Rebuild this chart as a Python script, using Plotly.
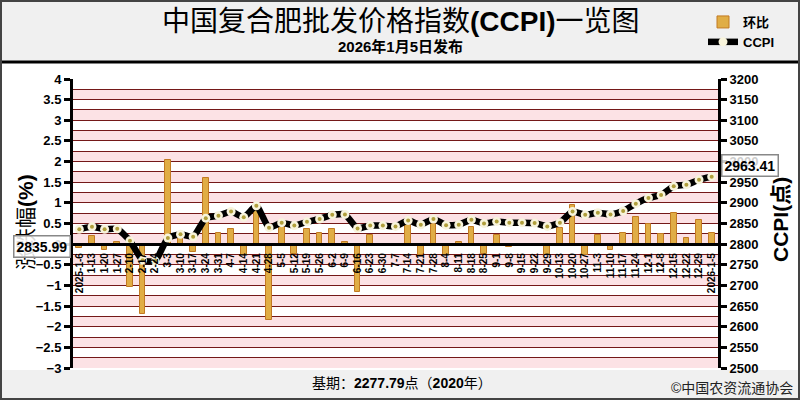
import plotly.graph_objects as go

# ---------------- data ----------------
dates = ["2025-1-6", "1-13", "1-20", "1-27", "2-10", "2-17", "2-24", "3-3", "3-10", "3-17",
         "3-24", "3-31", "4-7", "4-14", "4-21", "4-28", "5-5", "5-12", "5-19", "5-26",
         "6-2", "6-9", "6-16", "6-23", "6-30", "7-7", "7-14", "7-21", "7-28", "8-4",
         "8-11", "8-18", "8-25", "9-1", "9-8", "9-15", "9-22", "9-29", "10-13", "10-20",
         "10-27", "11-3", "11-10", "11-17", "11-24", "12-1", "12-8", "12-15", "12-22", "12-29",
         "2026-1-5"]

ccpi = [2835.99, 2842, 2836, 2837, 2808, 2761, 2759, 2815, 2824, 2818,
        2863, 2869, 2879, 2865, 2893, 2840, 2852, 2845, 2854, 2861,
        2871, 2872, 2838, 2845, 2845, 2843, 2857, 2847, 2861, 2846,
        2847, 2859, 2850, 2855, 2852, 2852, 2851, 2843, 2852, 2879,
        2871, 2876, 2872, 2880, 2898, 2912, 2919, 2940, 2944, 2956,
        2963.41]

change_pct = [-0.10, 0.20, -0.13, 0.05, -1.05, -1.68, -0.05, 2.04, 0.28, -0.19,
              1.60, 0.28, 0.36, -0.27, 0.95, -1.83, 0.45, -0.23, 0.37, 0.28,
              0.36, 0.06, -1.17, 0.23, 0.00, -0.03, 0.47, -0.27, 0.49, -0.27,
              0.06, 0.42, -0.24, 0.23, -0.06, 0.00, -0.02, -0.27, 0.38, 0.95,
              -0.27, 0.22, -0.13, 0.28, 0.65, 0.49, 0.24, 0.75, 0.16, 0.58,
              0.26]

left_range = [-3, 4]
right_range = [2500, 3200]

title_text = "中国复合肥批发价格指数<b>(CCPI)</b>一览图"
subtitle_text = "<b>2026年1月5日发布</b>"
base_text = "基期：<b>2277.79</b>点（<b>2020</b>年）"
credit_text = "©中国农资流通协会"
left_title = "涨跌幅<b>(%)</b>"
right_title = "<b>CCPI(点)</b>"

# ---------------- layout helpers ----------------
W, H = 800, 400
ML, MR, MT, MB = 73, 82, 79, 32
PW, PH = W - ML - MR, H - MT - MB


def px2x(px):
    return (px - ML) / PW


def px2y(py):
    return (H - MB - py) / PH


idx = list(range(len(dates)))
FONT = "Liberation Sans, Arial, Noto Sans CJK SC, sans-serif"
zero_pos = (0 - left_range[0]) / (left_range[1] - left_range[0])

fig = go.Figure()

fig.add_trace(go.Bar(
    x=idx, y=change_pct, name="环比", yaxis="y", xaxis="x",
    width=0.45,
    marker=dict(color="#e0ad45", line=dict(color="#c27a22", width=1)),
))

fig.add_trace(go.Scatter(
    x=idx, y=ccpi, name="CCPI", yaxis="y2", xaxis="x",
    mode="lines+markers",
    line=dict(color="black", width=6.5, shape="spline", smoothing=0.5),
    marker=dict(size=9, color="#f8f4dc", line=dict(width=0)),
))
fig.add_trace(go.Scatter(
    x=idx, y=ccpi, yaxis="y2", xaxis="x", mode="markers", showlegend=False,
    marker=dict(size=4, color="#b09f3c"), hoverinfo="skip",
))

# decorative backgrounds
shapes = []
shapes.append(dict(type="rect", xref="paper", yref="paper",
                   x0=px2x(0), x1=px2x(W), y0=px2y(H - MB + 2), y1=px2y(62),
                   fillcolor="white", line=dict(width=0), layer="below"))
# pink bands: [k*0.5, k*0.5+0.25]
v = left_range[0]
while v < left_range[1]:
    shapes.append(dict(type="rect", xref="paper", yref="y", x0=0, x1=1,
                       y0=v, y1=v + 0.25, fillcolor="#fce2e5",
                       line=dict(width=0), layer="below"))
    v += 0.5
# top black rule
shapes.append(dict(type="line", xref="paper", yref="paper",
                   x0=px2x(0), x1=px2x(W), y0=px2y(62), y1=px2y(62),
                   line=dict(color="black", width=3)))
# outer frame
shapes.append(dict(type="rect", xref="paper", yref="paper",
                   x0=px2x(1), x1=px2x(W - 1), y0=px2y(H - 1), y1=px2y(1),
                   line=dict(color="#444", width=2), fillcolor="rgba(0,0,0,0)"))

annotations = [
    dict(text=title_text, xref="paper", yref="paper", x=px2x(401), y=px2y(21),
         xanchor="center", yanchor="middle",
         showarrow=False, font=dict(size=28, color="black", family=FONT)),
    dict(text=subtitle_text, xref="paper", yref="paper", x=px2x(400), y=px2y(46),
         xanchor="center", yanchor="middle",
         showarrow=False, font=dict(size=15, color="black", family=FONT)),
    dict(text=base_text, xref="paper", yref="paper", x=px2x(402), y=px2y(383),
         xanchor="center", yanchor="middle",
         showarrow=False, font=dict(size=14, color="black", family=FONT)),
    dict(text=credit_text, xref="paper", yref="paper", x=px2x(795), y=px2y(388),
         xanchor="right", yanchor="middle",
         showarrow=False, font=dict(size=14, color="#222", family=FONT)),
    dict(text=left_title, xref="paper", yref="paper", x=px2x(25), y=px2y(222),
         xanchor="center", yanchor="middle", textangle=-90,
         showarrow=False, font=dict(size=21, color="black", family=FONT)),
    dict(text=right_title, xref="paper", yref="paper", x=px2x(780), y=px2y(220),
         xanchor="center", yanchor="middle", textangle=-90,
         showarrow=False, font=dict(size=21, color="black", family=FONT)),
    dict(text="<b>%.2f</b>" % ccpi[0], xref="paper", yref="y2", x=px2x(42), y=ccpi[0],
         xanchor="center", yanchor="middle",
         yshift=-17, showarrow=False, bgcolor="rgba(255,255,255,0.85)",
         bordercolor="#888", borderwidth=1.5, borderpad=2,
         font=dict(size=14, color="black", family=FONT)),
    dict(text="<b>%.2f</b>" % ccpi[-1], xref="paper", yref="y2", x=px2x(750), y=ccpi[-1],
         xanchor="center", yanchor="middle",
         yshift=11, showarrow=False, bgcolor="rgba(255,255,255,0.8)",
         bordercolor="#888", borderwidth=1.5, borderpad=2,
         font=dict(size=14, color="black", family=FONT)),
]

fig.update_layout(
    width=W, height=H,
    margin=dict(l=ML, r=MR, t=MT, b=MB, pad=0, autoexpand=False),
    paper_bgcolor="#f0f0f0", plot_bgcolor="white",
    font=dict(family=FONT, color="black"),
    shapes=shapes, annotations=annotations,
    bargap=0,
    showlegend=True,
    legend=dict(x=px2x(703), y=px2y(7), xanchor="left", yanchor="top",
                bgcolor="rgba(0,0,0,0)", font=dict(size=13, family=FONT, weight="bold"),
                tracegroupgap=0, itemwidth=30),
    xaxis=dict(
        range=[-0.5, len(dates) - 0.5], tickmode="array", tickvals=idx, ticktext=dates,
        tickangle=-90, tickfont=dict(size=10, family=FONT, weight="bold"),
        anchor="free", position=zero_pos,
        showline=True, linecolor="black", linewidth=3,
        ticks="outside", ticklen=3, tickcolor="rgba(0,0,0,0)",
        showgrid=False, zeroline=False, fixedrange=True,
    ),
    xaxis2=dict(
        overlaying="x", matches="x", anchor="free", position=zero_pos,
        tickmode="array", tickvals=[i + 0.5 for i in idx[1:-1:2]],
        ticks="outside", ticklen=7, tickwidth=3, tickcolor="black",
        showticklabels=False, showline=False, showgrid=False, zeroline=False,
    ),
    yaxis=dict(
        range=left_range, dtick=0.5, tick0=0,
        tickfont=dict(size=13, family=FONT, weight="bold"),
        showline=True, linecolor="black", linewidth=3,
        ticks="outside", ticklen=6, tickwidth=3, tickcolor="black",
        showgrid=True, gridcolor="#741818", gridwidth=1,
        minor=dict(dtick=0.25, showgrid=True, gridcolor="#741818", gridwidth=1),
        zeroline=False,
    ),
    yaxis2=dict(
        range=right_range, dtick=50, overlaying="y", side="right",
        tickfont=dict(size=13, family=FONT, weight="bold"),
        showline=True, linecolor="black", linewidth=3,
        ticks="outside", ticklen=6, tickwidth=3, tickcolor="black",
        showgrid=False, zeroline=False,
    ),
)

fig.write_html("out.html", config={"displayModeBar": False},
               post_script="document.body.style.margin='0';document.body.style.overflow='hidden';")
